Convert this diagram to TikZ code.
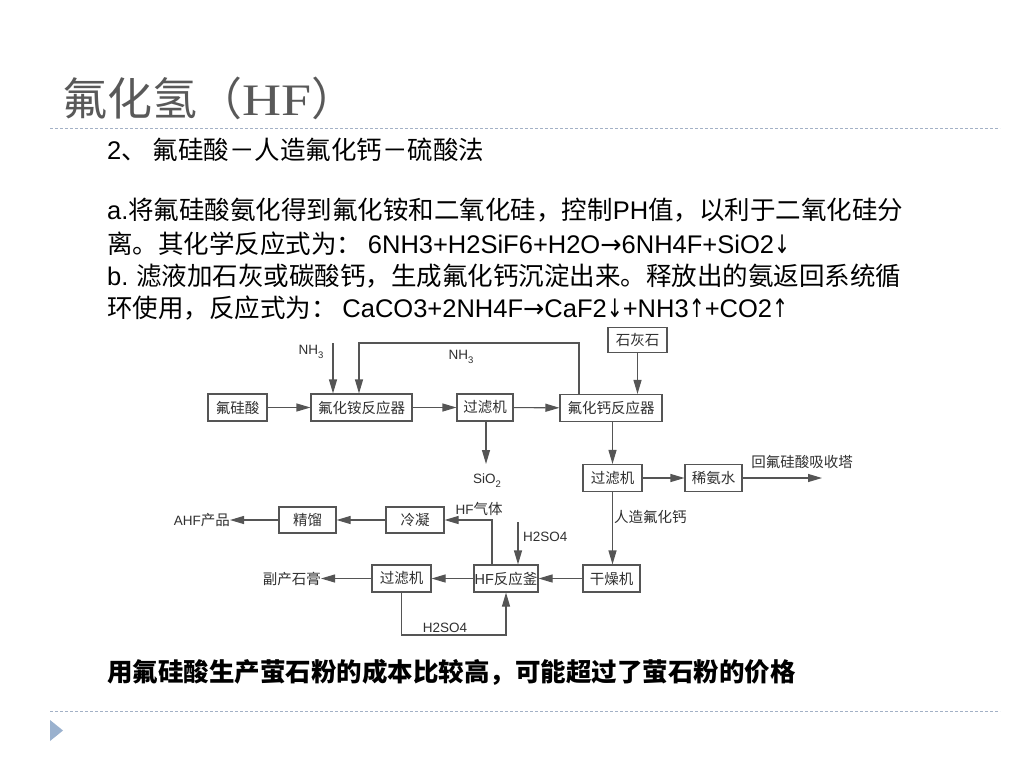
\documentclass[tikz,border=0pt]{standalone}
\usepackage{fontspec}
\setmainfont{Liberation Sans}
\newfontfamily\cjk{Noto Sans CJK SC}
\newfontfamily\latf{Liberation Sans}
\newfontfamily\arrf{DejaVu Sans}
\newfontfamily\titleserif{Liberation Serif}
\usetikzlibrary{arrows.meta}
\definecolor{titlegray}{HTML}{595959}
\definecolor{sepcol}{HTML}{A3B1C6}
\definecolor{tricol}{HTML}{9AB1CE}
\definecolor{dline}{HTML}{555555}
\definecolor{dtext}{HTML}{303030}
\newcommand\lt[1]{{\latf #1}}
\newcommand\ra{{\arrf →}}
\newcommand\da{{\arrf\scalebox{0.75}[1]{↓}}}
\newcommand\ua{{\arrf\scalebox{0.75}[1]{↑}}}
\newcommand\subs[1]{\raisebox{-0.3em}{\fontsize{9.5}{10}\selectfont #1}}
\tikzset{
  body/.style={anchor=base west, inner sep=0pt, font=\cjk\fontsize{25.5}{30}\selectfont},
  box/.style={draw=dline, line width=1.1pt, minimum height=27pt, inner sep=0pt, text=dtext, font=\cjk\fontsize{14.5}{16}\selectfont},
  lab/.style={inner sep=0pt, text=dtext, font=\latf\fontsize{13.5}{15}\selectfont},
  clab/.style={inner sep=0pt, text=dtext, font=\cjk\fontsize{14.5}{16}\selectfont},
  arr/.style={draw=dline, line width=1.1pt, -{Triangle[length=14pt,width=8pt]}},
  sep/.style={draw=sepcol, line width=1pt, dash pattern=on 3pt off 2pt},
}
\begin{document}
\begin{tikzpicture}[x=1pt,y=-1pt]
\useasboundingbox[fill=white] (0,0) rectangle (1024,768);
% title and separators
\node[anchor=base west, inner sep=0pt, text=titlegray, font=\fontsize{45}{50}\selectfont] (title) at (62,115) {{\cjk 氟化氢（}{\titleserif\scalebox{1.2}[1]{HF}}{\cjk ）}};
\draw[sep] (50,128) -- (1000,128);
\draw[sep] (50,711) -- (1000,711);
\fill[tricol] (50,720) -- (63,730.5) -- (50,741) -- cycle;
% text
\node[body] (head) at (107,159) {\lt{2}、 氟硅酸－人造氟化钙－硫酸法};
\node[body] (la) at (107,219.5) {\lt{a.}将氟硅酸氨化得到氟化铵和二氧化硅，控制\lt{PH}值，以利于二氧化硅分};
\node[body] (lb) at (107,253) {离。其化学反应式为： \lt{6NH3+H2SiF6+H2O\ra6NH4F+SiO2\da}};
\node[body] (lc) at (107,285.5) {\lt{b.} 滤液加石灰或碳酸钙，生成氟化钙沉淀出来。释放出的氨返回系统循};
\node[body] (ld) at (107,317.5) {环使用，反应式为： \lt{CaCO3+2NH4F\ra CaF2\da+NH3\ua+CO2\ua}};
\node[body, font=\cjk\bfseries\fontsize{25.5}{30}\selectfont] (concl) at (107,681.5) {用氟硅酸生产萤石粉的成本比较高，可能超过了萤石粉的价格};
% diagram boxes
\node[box, minimum width=59pt] (fsa) at (237.5,407.5) {氟硅酸};
\node[box, minimum width=101pt] (nh4r) at (361.5,407.5) {氟化铵反应器};
\node[box, minimum width=56pt] (f1) at (485,407.5) {过滤机};
\node[box, minimum width=102pt] (caf) at (611,408) {氟化钙反应器};
\node[box, minimum width=59pt, minimum height=25pt] (lime) at (637.5,340) {石灰石};
\node[box, minimum width=59pt] (f2) at (612.5,478) {过滤机};
\node[box, minimum width=57pt] (dil) at (713.5,478) {稀氨水};
\node[box, minimum width=57pt] (dry) at (611.5,578.5) {干燥机};
\node[box, minimum width=64pt] (hfr) at (506,578.5) {\lt{HF}反应釜};
\node[box, minimum width=59pt] (f3) at (401.5,578.5) {过滤机};
\node[box, minimum width=58pt, minimum height=26pt] (cond) at (415,520) {冷凝};
\node[box, minimum width=57pt, minimum height=26pt] (dist) at (307.5,520) {精馏};
% labels
\node[lab] (nh3a) at (311,352) {NH\subs{3}};
\node[lab] (nh3b) at (461,357) {NH\subs{3}};
\node[lab] (sio2) at (487,481) {SiO\subs{2}};
\node[clab] (outlab) at (802,462) {回氟硅酸吸收塔};
\node[clab, anchor=west] (artl) at (614,517) {人造氟化钙};
\node[lab, anchor=west] (h2a) at (523,537) {H2SO4};
\node[lab] (hfg) at (479,509) {HF{\cjk\fontsize{14.5}{16}\selectfont 气体}};
\node[lab] (h2b) at (445,628) {H2SO4};
\node[clab, anchor=east] (gyp) at (321,578.5) {副产石膏};
\node[lab, anchor=east] (ahf) at (230,520) {AHF{\cjk\fontsize{14.5}{16}\selectfont 产品}};
% coordinates
\coordinate (n1) at (333,343);
\coordinate (c1) at (579,343);
\coordinate (c2) at (359,343);
\coordinate (sioend) at (486,464);
\coordinate (outend) at (822,478);
\coordinate (h2top) at (518,522);
\coordinate (hfx) at (492,520);
\coordinate (b1) at (401.5,635);
\coordinate (b2) at (506,635);
% connectors
\draw[arr] (n1) -- (n1 |- nh4r.north);
\draw[arr] (caf.north -| c1) -- (c1) -- (c2) -- (c2 |- nh4r.north);
\draw[arr] (fsa) -- (nh4r);
\draw[arr] (nh4r) -- (f1);
\draw[arr] (f1) -- (caf);
\draw[arr] (f1.south -| sioend) -- (sioend);
\draw[arr] (lime) -- (lime |- caf.north);
\draw[arr] (caf.south -| f2) -- (f2);
\draw[arr] (f2) -- (dil);
\draw[arr] (dil) -- (outend);
\draw[arr] (f2) -- (f2 |- dry.north);
\draw[arr] (dry) -- (hfr);
\draw[arr] (h2top) -- (h2top |- hfr.north);
\draw[arr] (hfr.north -| hfx) -- (hfx) -- (cond.east);
\draw[arr] (hfr) -- (f3);
\draw[arr] (f3.south) -- (b1) -- (b2) -- (hfr.south);
\draw[arr] (f3) -- (gyp.east);
\draw[arr] (cond) -- (dist);
\draw[arr] (dist) -- (ahf.east);
\end{tikzpicture}
\end{document}
